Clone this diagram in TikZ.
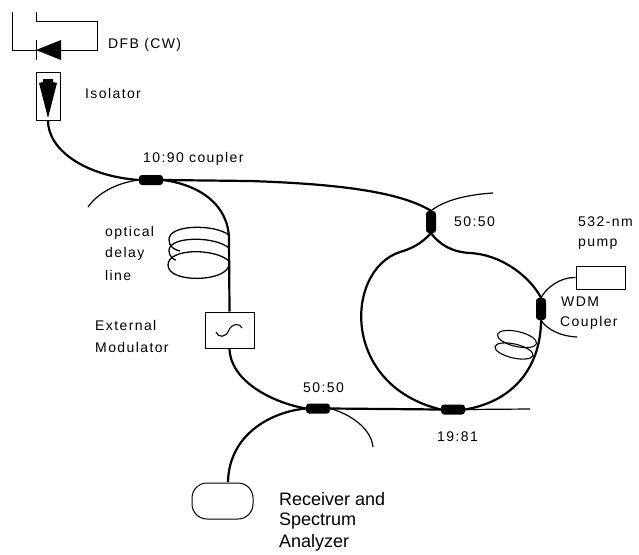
\documentclass[tikz,border=0pt]{standalone}
\usepackage{fontspec}
\setmainfont{Liberation Sans}
\newfontfamily\spaced[LetterSpace=10]{Liberation Sans}
\begin{document}
\begin{tikzpicture}[x=1pt,y=-1pt,
  fiber/.style={draw=black,line width=2.2pt},
  thinfiber/.style={draw=black,line width=1.2pt},
  wire/.style={draw=black,line width=1pt},
  hcoupler/.style={rectangle,rounded corners=3pt,fill=black,minimum width=24pt,minimum height=10pt,inner sep=0pt},
  vcoupler/.style={rectangle,rounded corners=3pt,fill=black,minimum width=10pt,minimum height=22pt,inner sep=0pt},
  box/.style={rectangle,draw=black,line width=1pt,fill=white,inner sep=0pt},
  lab/.style={anchor=west,inner sep=0pt,font=\spaced\fontsize{14}{16}\selectfont},
  biglab/.style={anchor=west,inner sep=0pt,font=\fontsize{18}{20}\selectfont}]
\useasboundingbox (0,0) rectangle (639,554);
% free ends
\coordinate (a1) at (12,12);
\coordinate (a2) at (36,12);
\coordinate (ld) at (12,50);
\coordinate (tip) at (36,50);
\coordinate (baseM) at (61,50);
\coordinate (c1L) at (88,207);
\coordinate (c2U) at (493,193);
\coordinate (c3R) at (530,409);
\coordinate (c4R) at (373,447);
\coordinate (wdmL) at (577,337);
% DFB
\draw[wire] (a1) -- (ld) -- (tip);
\draw[wire] (36,40) -- (36,60);
\draw[wire] (a2) -- (36,21) -- (97,21) -- (97,50) -- (baseM);
\fill (tip) -- (61,40) -- (61,60) -- cycle;
% Components
\node[box,minimum width=24pt,minimum height=48pt] (iso) at (48,96) {};
\fill (43,79) -- (53,79) -- (53,82) -- (57,83) -- (48,118) -- (39,83) -- (43,82) -- cycle;
\node[hcoupler] (c1) at (151,180) {};
\node[vcoupler] (c2) at (431,222) {};
\node[vcoupler] (wdm) at (541,309) {};
\node[hcoupler] (c3) at (453,409.500) {};
\node[hcoupler] (c4) at (318,408.500) {};
\node[box,minimum width=49pt,minimum height=36pt] (mod) at (229.500,330) {};
\node[box,minimum width=49pt,minimum height=23pt] (pump) at (600.500,277.500) {};
\node[box,minimum width=61pt,minimum height=36pt,rounded corners=15pt] (rx) at (222.500,501) {};
\draw[line width=1.1pt] (216,332) .. controls (218,338) and (226,338) .. (229,330)
   .. controls (232,323) and (240,323) .. (242,328);
% Fibers
\draw[fiber] (iso.south) .. controls (48,150) and (85,176) .. (c1.west);
\draw[thinfiber] (c1.west) .. controls (122,182) and (100,190) .. (c1L);
\draw[fiber] (c1.east) -- (250,181) .. controls (340,184) and (400,192) .. (c2.north);
\draw[fiber] (c1.east) .. controls (200,185) and (229,205) .. (229,240) -- (mod.north);
\draw[fiber] (mod.south) .. controls (230,380) and (270,402) .. (c4.west);
\draw[fiber] (c4.west) .. controls (270,412) and (229,435) .. (228,482);
\draw[thinfiber] (c4.east) .. controls (350,414) and (371,428) .. (c4R);
\draw[fiber] (c4.east) -- (c3.west);
\draw[thinfiber] (c3.east) -- (c3R);
\draw[thinfiber] (c2.north) .. controls (442,202) and (462,195) .. (c2U);
\draw[fiber] (c2.south) .. controls (420,245) and (410,249) .. (400,252)
   .. controls (345,270) and (340,385) .. (c3.west);
\draw[fiber] (c2.south) .. controls (440,245) and (452,252) .. (470,253)
   .. controls (505,255) and (532,280) .. (wdm.north);
\draw[fiber] (wdm.south) .. controls (541,360) and (520,400) .. (c3.east);
\draw[thinfiber] (wdm.north) .. controls (546,288) and (560,277) .. (pump.west);
\draw[thinfiber] (wdm.south) .. controls (546,328) and (558,336) .. (wdmL);
% Delay coil
\draw[line width=1.3pt] (229,235) .. controls (215,224) and (168,224) .. (169,240)
  .. controls (169,247) and (175,250) .. (180,251);
\draw[line width=1.3pt] (229,248) .. controls (215,236) and (170,236) .. (169,250)
  .. controls (169,258) and (175,260) .. (176,260);
\draw[line width=1.3pt] (229,261) .. controls (215,248) and (168,248) .. (168,265)
  .. controls (168,284) and (229,282) .. (229,264);
% Second coil
\draw[line width=1.1pt,rotate around={-13:(517,339)}] (517,339) ellipse (20 and 7.500);
\draw[line width=1.1pt,rotate around={-13:(514,351)}] (514,351) ellipse (19.500 and 7);
% Labels
\node[lab] (tDFB) at (108,45) {DFB (CW)};
\node[lab] (tIso) at (85,93) {Isolator};
\node[lab] (t1090) at (143,159) {10:90 coupler};
\node[lab] (tO) at (105,233) {optical};
\node[lab] (tD) at (105,254) {delay};
\node[lab] (tL) at (105,275) {line};
\node[lab] (tE) at (95,325) {External};
\node[lab] (tM) at (95,347) {Modulator};
\node[lab] (t5a) at (454,222) {50:50};
\node[lab] (t532) at (578,222) {532-nm};
\node[lab] (tP) at (578,244) {pump};
\node[lab] (tW) at (561,302) {WDM};
\node[lab] (tC) at (560,323) {Coupler};
\node[lab] (t5b) at (303,388) {50:50};
\node[lab] (t19) at (437,437) {19:81};
\node[biglab] (tR) at (279,499) {Receiver and};
\node[biglab] (tS) at (279,521) {Spectrum};
\node[biglab] (tA) at (279,543) {Analyzer};
\end{tikzpicture}
\end{document}
